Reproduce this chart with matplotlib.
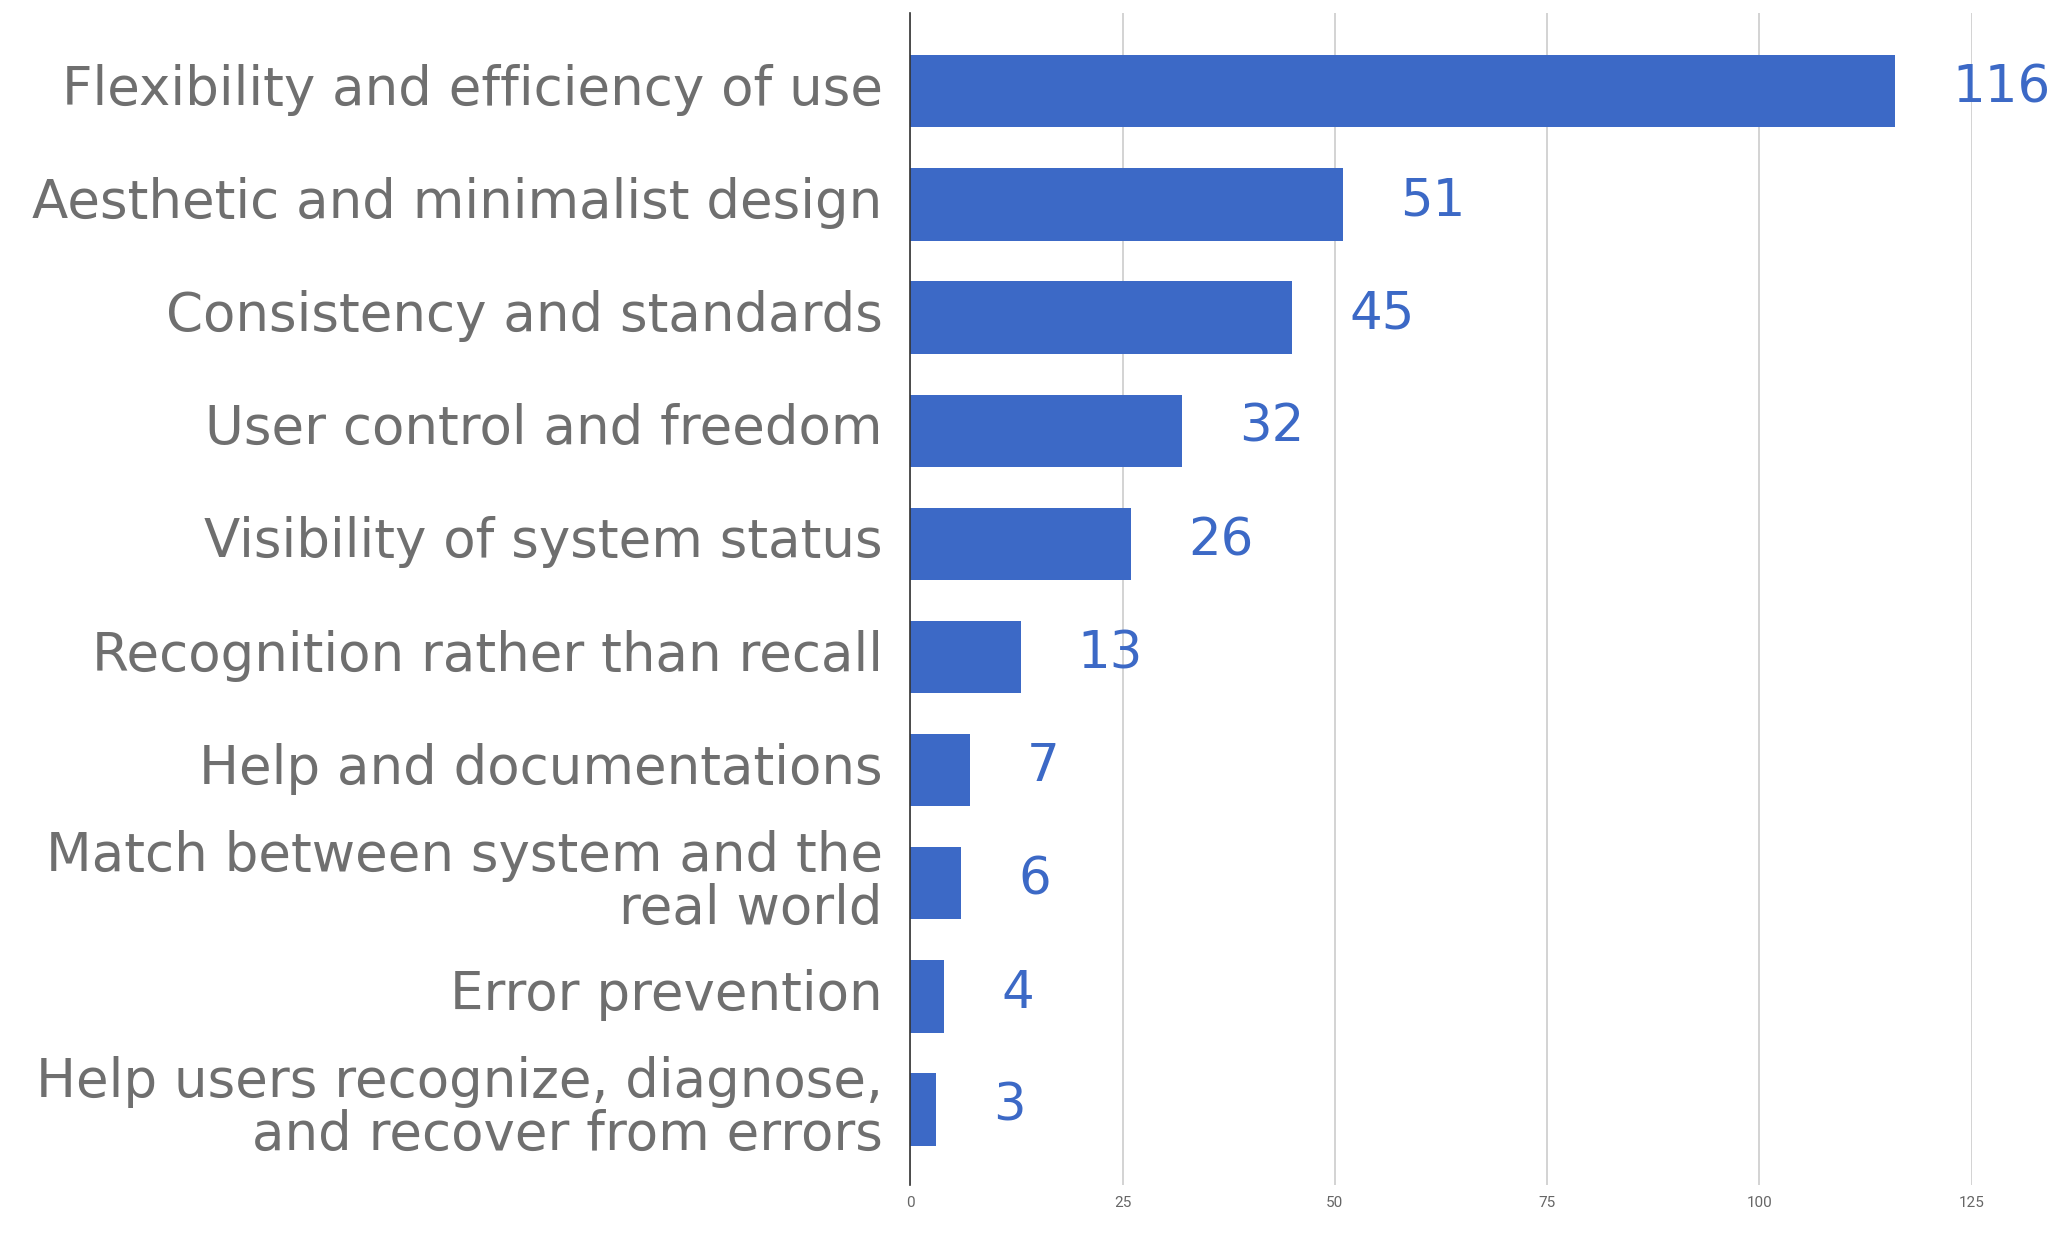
import matplotlib.pyplot as plt
from matplotlib.transforms import ScaledTranslation

# --- data ---
categories = [
    "Flexibility and efficiency of use",
    "Aesthetic and minimalist design",
    "Consistency and standards",
    "User control and freedom",
    "Visibility of system status",
    "Recognition rather than recall",
    "Help and documentations",
    "Match between system and the\nreal world",
    "Error prevention",
    "Help users recognize, diagnose,\nand recover from errors",
]
counts = [116, 51, 45, 32, 26, 13, 7, 6, 4, 3]
x_ticks = [0, 25, 50, 75, 100, 125]

BAR_COLOR = '#3c69c6'
LABEL_COLOR = '#6f6f6f'
GRID_COLOR = '#cccccc'

fig = plt.figure(figsize=(20.72, 12.48), dpi=100)
ax = fig.add_axes([0.4394, 0.0502, 0.9515 - 0.4394, 0.9894 - 0.0502])

ypos = list(range(len(categories)))
ax.barh(ypos, counts, height=0.64, color=BAR_COLOR, zorder=3)

ax.set_xlim(0, 125)
ax.set_ylim(len(categories) - 1 + 0.67, -0.69)

ax.set_yticks(ypos)
ax.set_yticklabels(categories, fontsize=38.2, color=LABEL_COLOR,
                   family='DejaVu Sans', linespacing=1.02)
ax.tick_params(axis='y', length=0, pad=20)
# nudge the category labels up a little
shift = ScaledTranslation(0, 5 / 72, fig.dpi_scale_trans)
for lbl in ax.get_yticklabels():
    lbl.set_transform(lbl.get_transform() + shift)

ax.set_xticks(x_ticks)
ax.set_xticklabels([str(t) for t in x_ticks], fontsize=11, color='#666666', family='Roboto')
ax.tick_params(axis='x', length=0, pad=8)

ax.grid(axis='x', color=GRID_COLOR, linewidth=1.2, zorder=0)
for side in ['top', 'right', 'bottom']:
    ax.spines[side].set_visible(False)
ax.spines['left'].set_color('#333333')
ax.spines['left'].set_linewidth(1.2)
ax.spines['left'].set_zorder(4)

# value labels
for y, v in zip(ypos, counts):
    ax.annotate(str(v), xy=(v, y), xytext=(41, 2), textcoords='offset points',
                ha='left', va='center', fontsize=37, color=BAR_COLOR,
                family='DejaVu Sans', annotation_clip=False)

fig.savefig('out.png', dpi=100)
